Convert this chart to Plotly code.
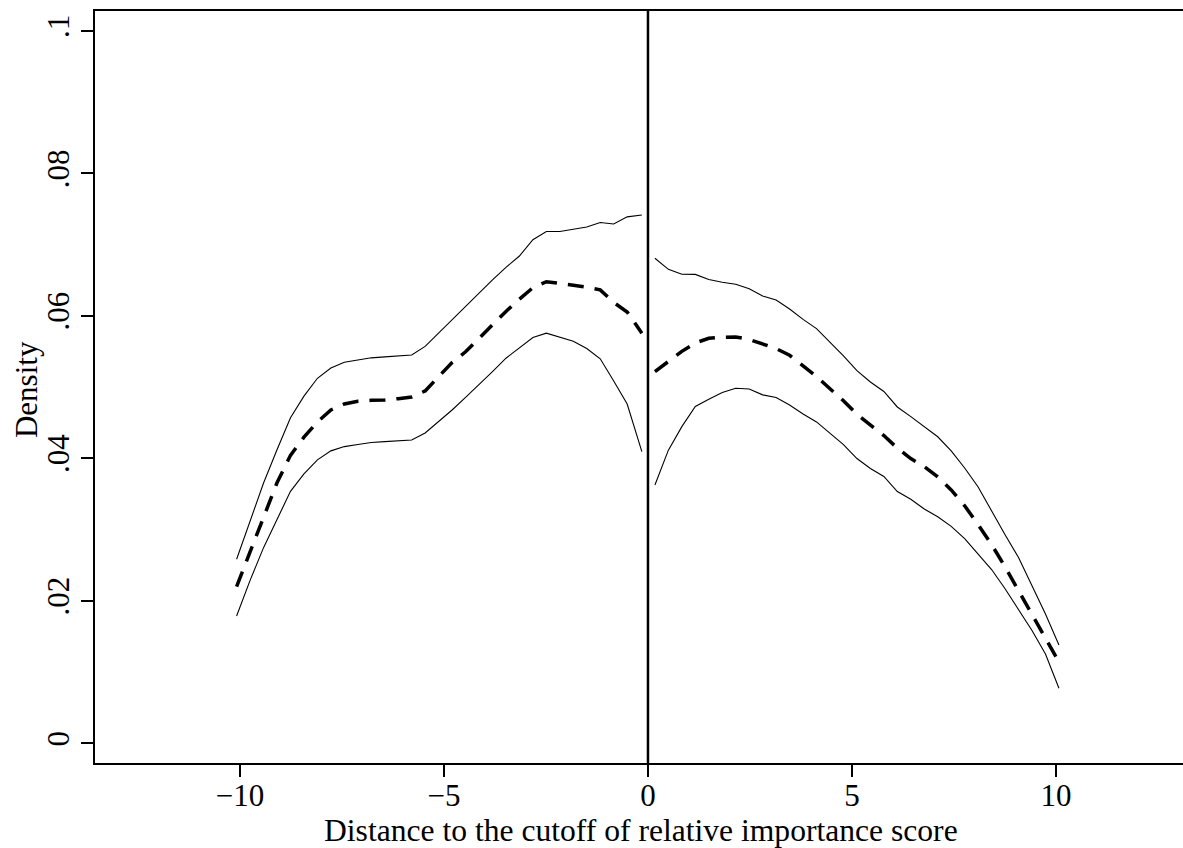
import plotly.graph_objects as go

# ---- data ----
x_left = [-10.08, -9.75, -9.42, -9.09, -8.76, -8.43, -8.10, -7.77, -7.44, -7.11,
          -6.78, -6.45, -6.12, -5.79, -5.46, -5.13, -4.80, -4.47, -4.14, -3.81,
          -3.48, -3.15, -2.82, -2.49, -2.16, -1.83, -1.50, -1.17, -0.84, -0.51, -0.15]
upper_left = [0.02583, 0.03104, 0.03653, 0.04120, 0.04570, 0.04873, 0.05124, 0.05269, 0.05350, 0.05380,
              0.05411, 0.05425, 0.05437, 0.05451, 0.05571, 0.05760, 0.05943, 0.06128, 0.06316, 0.06504,
              0.06681, 0.06840, 0.07069, 0.07184, 0.07184, 0.07212, 0.07248, 0.07310, 0.07290, 0.07390, 0.07417]
est_left = [0.02200, 0.02675, 0.03172, 0.03657, 0.04042, 0.04297, 0.04511, 0.04679, 0.04763, 0.04801,
            0.04814, 0.04818, 0.04838, 0.04862, 0.04946, 0.05142, 0.05346, 0.05496, 0.05686, 0.05878,
            0.06062, 0.06236, 0.06396, 0.06479, 0.06459, 0.06431, 0.06403, 0.06365, 0.06188, 0.06055, 0.05756]
lower_left = [0.01787, 0.02287, 0.02746, 0.03150, 0.03537, 0.03781, 0.03979, 0.04105, 0.04165, 0.04195,
              0.04223, 0.04234, 0.04244, 0.04258, 0.04356, 0.04518, 0.04679, 0.04855, 0.05032, 0.05218,
              0.05406, 0.05554, 0.05696, 0.05758, 0.05706, 0.05645, 0.05541, 0.05398, 0.05086, 0.04763, 0.04094]

x_right = [0.17, 0.50, 0.83, 1.16, 1.49, 1.82, 2.15, 2.48, 2.81, 3.14,
           3.47, 3.80, 4.13, 4.46, 4.79, 5.12, 5.45, 5.78, 6.11, 6.44,
           6.77, 7.10, 7.43, 7.76, 8.09, 8.42, 8.75, 9.08, 9.41, 9.74, 10.07]
upper_right = [0.06809, 0.06653, 0.06584, 0.06582, 0.06511, 0.06471, 0.06444, 0.06382, 0.06280, 0.06224,
               0.06097, 0.05951, 0.05822, 0.05631, 0.05440, 0.05230, 0.05072, 0.04939, 0.04721, 0.04585,
               0.04441, 0.04303, 0.04106, 0.03865, 0.03598, 0.03257, 0.02927, 0.02608, 0.02210, 0.01815, 0.01380]
est_right = [0.05217, 0.05363, 0.05502, 0.05620, 0.05686, 0.05700, 0.05704, 0.05669, 0.05610, 0.05541,
             0.05447, 0.05293, 0.05148, 0.04977, 0.04808, 0.04618, 0.04462, 0.04320, 0.04143, 0.03997,
             0.03883, 0.03741, 0.03556, 0.03334, 0.03069, 0.02790, 0.02475, 0.02145, 0.01825, 0.01481, 0.01141]
lower_right = [0.03626, 0.04115, 0.04445, 0.04728, 0.04831, 0.04925, 0.04983, 0.04974, 0.04891, 0.04855,
               0.04749, 0.04622, 0.04511, 0.04356, 0.04193, 0.03997, 0.03857, 0.03746, 0.03534, 0.03426,
               0.03289, 0.03180, 0.03045, 0.02872, 0.02662, 0.02439, 0.02169, 0.01881, 0.01584, 0.01254, 0.00772]

x_tickvals = [-10, -5, 0, 5, 10]
x_ticktext = ["\u221210", "\u22125", "0", "5", "10"]
y_tickvals = [0, 0.02, 0.04, 0.06, 0.08, 0.1]
y_ticktext = ["0", ".02", ".04", ".06", ".08", ".1"]
cutoff = 0
x_title = "Distance to the cutoff of relative importance score"
y_title = "Density"

FONT = "Liberation Serif, Times New Roman, serif"

fig = go.Figure()
for xs, ys in [(x_left, upper_left), (x_left, lower_left), (x_right, upper_right), (x_right, lower_right)]:
    fig.add_trace(go.Scatter(x=xs, y=ys, mode="lines",
                             line=dict(color="black", width=1.1), showlegend=False, hoverinfo="skip"))
for xs, ys in [(x_left, est_left), (x_right, est_right)]:
    fig.add_trace(go.Scatter(x=xs, y=ys, mode="lines",
                             line=dict(color="black", width=3.5, dash="16px,11px"),
                             showlegend=False, hoverinfo="skip"))

fig.add_vline(x=cutoff, line=dict(color="black", width=2.5))

fig.add_annotation(text=x_title, xref="paper", yref="paper", x=0.502, y=-0.0904,
                   xanchor="center", yanchor="middle", showarrow=False,
                   font=dict(family=FONT, size=31.6, color="black"))
fig.add_annotation(text=y_title, xref="paper", yref="paper", x=-0.0634, y=0.496,
                   xanchor="center", yanchor="middle", showarrow=False, textangle=-90,
                   font=dict(family=FONT, size=31, color="black"))

fig.update_layout(
    width=1183, height=848,
    margin=dict(l=95, r=0, t=11, b=85, autoexpand=False),
    paper_bgcolor="white", plot_bgcolor="white",
    font=dict(family=FONT, size=31, color="black"),
    hovermode=False,
    xaxis=dict(
        range=[-13.55, 13.11], showgrid=False, zeroline=False, automargin=False,
        showline=True, linecolor="black", linewidth=2, mirror=True,
        ticks="outside", ticklen=12, tickwidth=2, tickcolor="black",
        tickvals=x_tickvals, ticktext=x_ticktext, ticklabelstandoff=-8,
        tickfont=dict(family=FONT, size=31),
    ),
    yaxis=dict(
        range=[-0.00277, 0.1028], showgrid=False, zeroline=False, automargin=False,
        showline=True, linecolor="black", linewidth=2,
        ticks="outside", ticklen=12, tickwidth=2, tickcolor="black",
        tickvals=y_tickvals, ticktext=y_ticktext, tickangle=-90,
        tickfont=dict(family=FONT, size=31),
    ),
)

fig.write_html(
    "out.html",
    config={"displayModeBar": False, "staticPlot": True},
    post_script="document.body.style.margin='0';document.body.style.overflow='hidden';",
)
